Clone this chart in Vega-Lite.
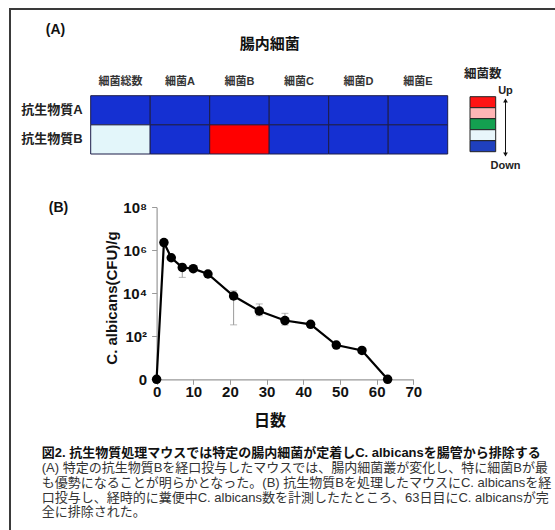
{
  "$schema": "https://vega.github.io/schema/vega-lite/v6.json",
  "width": 560,
  "height": 535,
  "autosize": {"type": "none"},
  "padding": {"left": 10, "top": 9, "right": 0, "bottom": 0},
  "background": "white",
  "view": {"stroke": "#3a3a3a", "strokeWidth": 2},
  "config": {"font": "Liberation Sans, Noto Sans CJK JP, sans-serif", "axis": {"grid": false}},
  "title": {
    "text": "図2. 抗生物質処理マウスでは特定の腸内細菌が定着しC. albicansを腸管から排除する",
    "subtitle": [
      "(A) 特定の抗生物質Bを経口投与したマウスでは、腸内細菌叢が変化し、特に細菌Bが最",
      "も優勢になることが明らかとなった。(B) 抗生物質Bを処理したマウスにC. albicansを経",
      "口投与し、経時的に糞便中C. albicans数を計測したたところ、63日目にC. albicansが完",
      "全に排除された。"
    ],
    "orient": "bottom",
    "anchor": "start",
    "frame": "group",
    "offset": -96.7,
    "dx": 31.7,
    "fontSize": 13,
    "fontWeight": "bold",
    "color": "#111111",
    "subtitleFontSize": 13,
    "subtitleFontWeight": "normal",
    "subtitleColor": "#333333",
    "subtitleLineHeight": 14.7,
    "subtitlePadding": 2
  },
  "datasets": {
    "heat": [
      {"antibiotic": "抗生物質A", "bacteria": "細菌総数", "level": "Down2"},
      {"antibiotic": "抗生物質A", "bacteria": "細菌A", "level": "Down2"},
      {"antibiotic": "抗生物質A", "bacteria": "細菌B", "level": "Down2"},
      {"antibiotic": "抗生物質A", "bacteria": "細菌C", "level": "Down2"},
      {"antibiotic": "抗生物質A", "bacteria": "細菌D", "level": "Down2"},
      {"antibiotic": "抗生物質A", "bacteria": "細菌E", "level": "Down2"},
      {"antibiotic": "抗生物質B", "bacteria": "細菌総数", "level": "Down1"},
      {"antibiotic": "抗生物質B", "bacteria": "細菌A", "level": "Down2"},
      {"antibiotic": "抗生物質B", "bacteria": "細菌B", "level": "Up2"},
      {"antibiotic": "抗生物質B", "bacteria": "細菌C", "level": "Down2"},
      {"antibiotic": "抗生物質B", "bacteria": "細菌D", "level": "Down2"},
      {"antibiotic": "抗生物質B", "bacteria": "細菌E", "level": "Down2"}
    ],
    "levels": [
      {"key": "細菌数", "level": "Up2"},
      {"key": "細菌数", "level": "Up1"},
      {"key": "細菌数", "level": "Mid"},
      {"key": "細菌数", "level": "Down1"},
      {"key": "細菌数", "level": "Down2"}
    ],
    "arrow": [{"key": "細菌数", "start": "Up", "end": "Down"}],
    "ends": [{"key": "細菌数", "end": "Up"}, {"key": "細菌数", "end": "Down"}],
    "cfu": [
      {"day": 0, "cfu": 0},
      {"day": 2, "cfu": 2300000},
      {"day": 4, "cfu": 450000},
      {"day": 7, "cfu": 160000},
      {"day": 10, "cfu": 140000},
      {"day": 14, "cfu": 79000},
      {"day": 21, "cfu": 7500},
      {"day": 28, "cfu": 1500},
      {"day": 35, "cfu": 540},
      {"day": 42, "cfu": 360},
      {"day": 49, "cfu": 38},
      {"day": 56, "cfu": 21},
      {"day": 63, "cfu": 0}
    ],
    "err": [
      {"day": 7, "lo": 55000, "hi": 220000},
      {"day": 21, "lo": 340, "hi": 13000},
      {"day": 28, "lo": 900, "hi": 3200},
      {"day": 35, "lo": 330, "hi": 1170}
    ]
  },
  "resolve": {
    "scale": {"x": "independent", "y": "independent", "color": "independent", "shape": "independent"},
    "axis": {"x": "independent", "y": "independent"}
  },
  "layer": [
    {
      "data": {"name": "heat"},
      "mark": {"type": "rect", "stroke": "#1c1c48", "strokeWidth": 1},
      "encoding": {
        "x": {
          "field": "bacteria", "type": "nominal",
          "scale": {"domain": ["細菌総数", "細菌A", "細菌B", "細菌C", "細菌D", "細菌E"], "range": [80.7, 437.7], "paddingInner": 0, "paddingOuter": 0},
          "axis": {"orient": "top", "offset": -86.7, "domain": false, "ticks": false, "tickSize": 0, "labelAngle": 0, "labelPadding": 14.7, "labelBaseline": "middle", "labelFontSize": 11, "labelFontWeight": "bold", "labelColor": "#333333",
            "title": "腸内細菌", "titleFontSize": 15, "titleFontWeight": "bold", "titleColor": "#111111", "titleX": 259.2, "titleY": -51.7, "titleBaseline": "middle", "titleAlign": "center", "titleAngle": 0}
        },
        "y": {
          "field": "antibiotic", "type": "nominal",
          "scale": {"domain": ["抗生物質A", "抗生物質B"], "range": [86.7, 145], "paddingInner": 0, "paddingOuter": 0},
          "axis": {"orient": "left", "offset": -80.7, "domain": false, "ticks": false, "tickSize": 0, "labelPadding": 8.5, "labelFontSize": 13, "labelFontWeight": "bold", "labelColor": "#222222",
            "title": "(A)", "titleAngle": 0, "titleX": -35.7, "titleY": 20, "titleAlign": "center", "titleBaseline": "middle", "titleFontSize": 14, "titleFontWeight": "bold", "titleColor": "#111111"}
        },
        "color": {
          "field": "level", "type": "nominal",
          "scale": {"domain": ["Up2", "Up1", "Mid", "Down1", "Down2"], "range": ["#ff0000", "#ffb3b3", "#13a050", "#e3f6fa", "#1530d2"]},
          "legend": null
        }
      }
    },
    {
      "data": {"name": "levels"},
      "mark": {"type": "rect", "stroke": "#222222", "strokeWidth": 1},
      "encoding": {
        "x": {
          "field": "key", "type": "nominal",
          "scale": {"domain": ["細菌数"], "range": [460, 485.7], "paddingInner": 0, "paddingOuter": 0},
          "axis": {"orient": "top", "offset": -87.7, "domain": false, "ticks": false, "tickSize": 0, "labelAngle": 0, "labelPadding": 23.7, "labelBaseline": "middle", "labelFontSize": 12.5, "labelFontWeight": "bold", "labelColor": "#222222", "title": null}
        },
        "y": {
          "field": "level", "type": "nominal",
          "scale": {"domain": ["Up2", "Up1", "Mid", "Down1", "Down2"], "range": [87.7, 142.7], "paddingInner": 0, "paddingOuter": 0},
          "axis": null
        },
        "color": {
          "field": "level", "type": "nominal",
          "scale": {"domain": ["Up2", "Up1", "Mid", "Down1", "Down2"], "range": ["#ff1414", "#ffb5b5", "#14a050", "#e8f6fb", "#1f40bf"]},
          "legend": null
        }
      }
    },
    {
      "data": {"name": "arrow"},
      "mark": {"type": "rule", "color": "#111111", "strokeWidth": 1},
      "encoding": {
        "x": {"field": "key", "type": "nominal", "scale": {"domain": ["細菌数"], "range": [490.5, 500.5]}, "axis": null},
        "y": {"field": "start", "type": "ordinal", "scale": {"type": "point", "domain": ["Up", "Down"], "range": [90, 147], "padding": 0}, "axis": null},
        "y2": {"field": "end"}
      }
    },
    {
      "data": {"name": "ends"},
      "mark": {"type": "point", "filled": true, "color": "#111111", "size": 22, "opacity": 1},
      "encoding": {
        "x": {"field": "key", "type": "nominal", "scale": {"domain": ["細菌数"], "range": [490.5, 500.5]}, "axis": null},
        "y": {"field": "end", "type": "ordinal", "scale": {"type": "point", "domain": ["Up", "Down"], "range": [91.5, 145.5], "padding": 0}, "axis": null},
        "shape": {"field": "end", "type": "nominal", "scale": {"domain": ["Up", "Down"], "range": ["triangle-up", "triangle-down"]}, "legend": null}
      }
    },
    {
      "data": {"name": "ends"},
      "mark": {"type": "text", "fontSize": 11, "fontWeight": "bold", "color": "#222222", "align": "center", "baseline": "middle"},
      "encoding": {
        "x": {"field": "key", "type": "nominal", "scale": {"domain": ["細菌数"], "range": [490.5, 500.5]}, "axis": null},
        "y": {"field": "end", "type": "ordinal", "scale": {"type": "point", "domain": ["Up", "Down"], "range": [82, 157], "padding": 0}, "axis": null},
        "text": {"field": "end"}
      }
    },
    {
      "data": {"name": "err"},
      "mark": {"type": "rule", "color": "#9a9a9a", "strokeWidth": 1},
      "encoding": {
        "x": {
          "field": "day", "type": "quantitative",
          "scale": {"type": "linear", "domain": [0, 70], "range": [146.6, 403.3], "nice": false, "zero": false},
          "axis": {"orient": "top", "offset": 0, "domain": false, "ticks": false, "labels": false, "title": "(B)", "titleX": 48, "titleY": 198, "titleAngle": 0, "titleAlign": "center", "titleBaseline": "middle", "titleFontSize": 14, "titleFontWeight": "bold", "titleColor": "#111111"}
        },
        "y": {"field": "lo", "type": "quantitative", "scale": {"type": "symlog", "constant": 1, "domain": [0, 100000000], "range": [370.3, 198.3], "nice": false}, "axis": null},
        "y2": {"field": "hi"}
      }
    },
    {
      "data": {"name": "err"},
      "mark": {"type": "tick", "orient": "horizontal", "color": "#9a9a9a", "size": 7, "thickness": 1},
      "encoding": {
        "x": {"field": "day", "type": "quantitative", "scale": {"type": "linear", "domain": [0, 70], "range": [146.6, 403.3], "nice": false, "zero": false}, "axis": null},
        "y": {"field": "hi", "type": "quantitative", "scale": {"type": "symlog", "constant": 1, "domain": [0, 100000000], "range": [370.3, 198.3], "nice": false}, "axis": null}
      }
    },
    {
      "data": {"name": "err"},
      "mark": {"type": "tick", "orient": "horizontal", "color": "#9a9a9a", "size": 7, "thickness": 1},
      "encoding": {
        "x": {"field": "day", "type": "quantitative", "scale": {"type": "linear", "domain": [0, 70], "range": [146.6, 403.3], "nice": false, "zero": false}, "axis": null},
        "y": {"field": "lo", "type": "quantitative", "scale": {"type": "symlog", "constant": 1, "domain": [0, 100000000], "range": [370.3, 198.3], "nice": false}, "axis": null}
      }
    },
    {
      "data": {"name": "cfu"},
      "mark": {"type": "line", "color": "#000000", "strokeWidth": 2.2},
      "encoding": {
        "x": {
          "field": "day", "type": "quantitative",
          "scale": {"type": "linear", "domain": [0, 70], "range": [146.6, 403.3], "nice": false, "zero": false},
          "axis": {"orient": "bottom", "offset": -164.7, "values": [0, 10, 20, 30, 40, 50, 60, 70], "domainColor": "#999999", "domainWidth": 1.2, "tickColor": "#999999", "tickSize": 5, "labelPadding": 7, "labelBaseline": "middle", "labelFontSize": 15, "labelFontWeight": "bold", "labelColor": "#111111", "labelFlush": false, "labelOverlap": false,
            "title": "日数", "titleX": 259.5, "titleY": 41, "titleAlign": "center", "titleBaseline": "middle", "titleFontSize": 16, "titleFontWeight": "bold", "titleColor": "#111111"}
        },
        "y": {
          "field": "cfu", "type": "quantitative",
          "scale": {"type": "symlog", "constant": 1, "domain": [0, 100000000], "range": [370.3, 198.3], "nice": false},
          "axis": {"orient": "left", "offset": -146.6, "values": [0, 100, 10000, 1000000, 100000000],
            "labelExpr": "datum.value == 0 ? '0' : datum.value == 100 ? '10²' : datum.value == 10000 ? '10⁴' : datum.value == 1000000 ? '10⁶' : '10⁸'",
            "domainColor": "#999999", "domainWidth": 1.2, "tickColor": "#999999", "tickSize": 5, "labelPadding": 5, "labelFontSize": 15, "labelFontWeight": "bold", "labelColor": "#111111", "labelFlush": false, "labelOverlap": false, "labelBaseline": "middle",
            "title": "C. albicans(CFU)/g", "titleX": -45.6, "titleY": 288.5, "titleAngle": -90, "titleAlign": "center", "titleBaseline": "middle", "titleFontSize": 15, "titleFontWeight": "bold", "titleColor": "#111111"}
        }
      }
    },
    {
      "data": {"name": "cfu"},
      "mark": {"type": "circle", "color": "#000000", "size": 90, "opacity": 1},
      "encoding": {
        "x": {"field": "day", "type": "quantitative", "scale": {"type": "linear", "domain": [0, 70], "range": [146.6, 403.3], "nice": false, "zero": false}, "axis": null},
        "y": {"field": "cfu", "type": "quantitative", "scale": {"type": "symlog", "constant": 1, "domain": [0, 100000000], "range": [370.3, 198.3], "nice": false}, "axis": null}
      }
    }
  ]
}
